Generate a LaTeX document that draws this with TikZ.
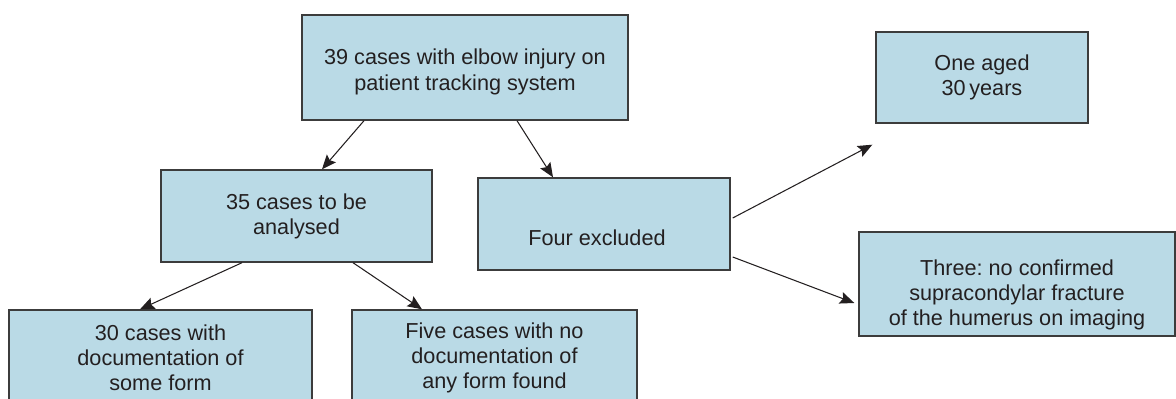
\documentclass[tikz,border=0pt]{standalone}
\usepackage{fontspec}
\setmainfont{Liberation Sans}
\usetikzlibrary{arrows.meta}

\newlength{\px}
\setlength{\px}{0.025cm}

\definecolor{boxblue}{RGB}{186,218,230}
\definecolor{boxline}{RGB}{60,60,60}
\definecolor{txtgray}{RGB}{35,31,32}

\tikzset{
	flowbox/.style={draw=boxline, line width=1pt, fill=boxblue, text=txtgray,
		align=center, inner sep=0pt, font=\fontsize{15.4}{17.8}\selectfont\frenchspacing},
	flowarrow/.style={draw=txtgray, line width=0.75pt, -{Stealth[length=0.36cm, width=0.3cm, inset=0.06cm]}}
}

\begin{document}
\begin{tikzpicture}[x=0.025cm, y=-0.025cm]
		\useasboundingbox (0, 0) rectangle (1176, 399);

		\node[flowbox, minimum width=326\px, minimum height=105\px, text height=1.24cm, text depth=0.115cm] (tracked) at (465, 67.5) {39 cases with elbow injury on\\patient tracking system};
		\node[flowbox, minimum width=271\px, minimum height=92\px] (analysed) at (296.5, 216) {35 cases to be\\analysed};
		\node[flowbox, minimum width=252\px, minimum height=92\px] (excluded) at (604, 224) {\strut\\Four excluded\hspace*{14\px}};
		\node[flowbox, minimum width=212\px, minimum height=91\px] (aged) at (982, 77.5) {One aged\\30\,years};
		\node[flowbox, minimum width=316\px, minimum height=104\px, text height=2.17cm, text depth=0.115cm] (noconfirm) at (1017, 284) {Three: no confirmed\\supracondylar fracture\\of the humerus on imaging};
		\node[flowbox, minimum width=303\px, minimum height=96\px] (documented) at (160.5, 358) {30 cases with\\documentation of\\some form};
		\node[flowbox, minimum width=285\px, minimum height=96\px] (undocumented) at (494.5, 358) {Five cases with no\\documentation of\\any form found};

		\coordinate (agedend) at ([xshift=-3\px, yshift=-21\px]aged.south west);

		\draw[flowarrow] ([xshift=-101\px]tracked.south) -- ([xshift=25.5\px]analysed.north);
		\draw[flowarrow] ([xshift=52\px]tracked.south) -- ([xshift=-51\px]excluded.north);
		\draw[flowarrow] ([xshift=-54.5\px]analysed.south) -- ([xshift=-20.5\px]documented.north);
		\draw[flowarrow] ([xshift=56.5\px]analysed.south) -- ([xshift=-72.5\px]undocumented.north);
		\draw[flowarrow] ([xshift=2\px, yshift=6\px]excluded.east) -- (agedend);
		\draw[flowarrow] ([xshift=2\px, yshift=-33\px]excluded.east) -- ([xshift=-4\px, yshift=-19\px]noconfirm.west);
	\end{tikzpicture}
\end{document}
